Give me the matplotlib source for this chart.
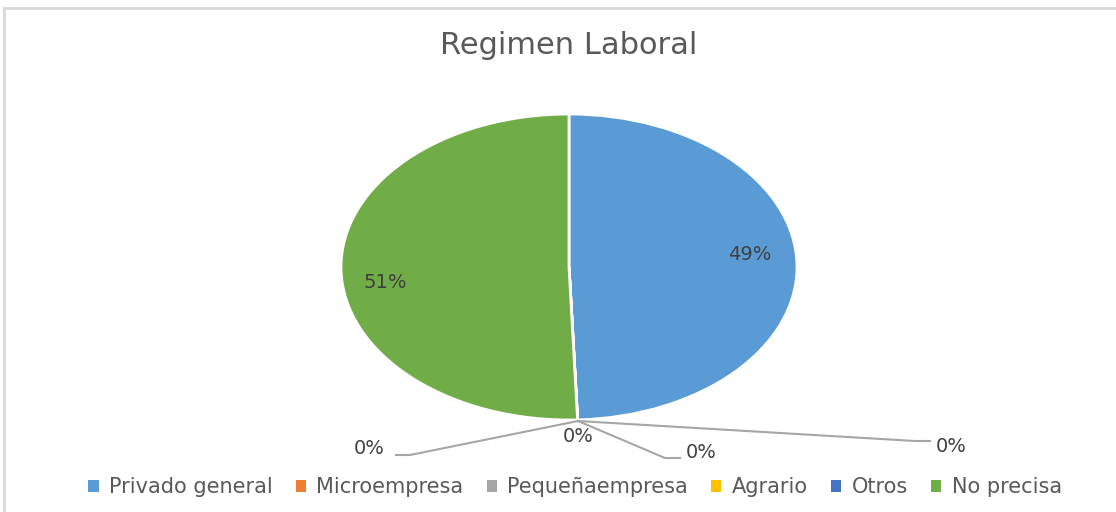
import matplotlib.pyplot as plt
from matplotlib.patches import Patch

categorias = ["Privado general", "Microempresa", "Pequeñaempresa", "Agrario", "Otros", "No precisa"]
valores = [49.4, 0.0, 0.0, 0.0, 0.0, 50.6]
colores = ["#5B9BD5", "#ED7D31", "#A5A5A5", "#FFC000", "#4472C4", "#70AD47"]

W, H = 1116, 512
cx, cy, rx, ry = 569, 267, 228, 153

def px(x, y):
    # pixel -> coordenadas de datos del pie
    return (x - cx) / rx, (cy - y) / ry

fig = plt.figure(figsize=(W / 100, H / 100), dpi=100)
ax = fig.add_axes([0, 0, 1, 1])

total = sum(valores)
etiquetas = ["%d%%" % round(v / total * 100) for v in valores]

wedges, _ = ax.pie(valores, colors=colores, startangle=90, counterclock=False,
                   wedgeprops=dict(edgecolor="white", linewidth=2))
ax.set_aspect("auto")
ax.set_xlim(px(0, 0)[0], px(W, 0)[0])
ax.set_ylim(px(0, H)[1], px(0, 0)[1])
ax.axis("off")

txt = dict(color="#404040", fontsize=14, ha="center", va="center", family="DejaVu Sans")
# etiquetas dentro de los sectores grandes
ax.text(*px(750, 255), etiquetas[0], **txt)
ax.text(*px(385, 283), etiquetas[5], **txt)

# etiquetas con lineas guia para los sectores pequeños
punta = px(578, 421)
guias = [
    (etiquetas[1], [(410, 455), (396, 455)], (369, 449)),
    (etiquetas[2], None, (578, 437)),
    (etiquetas[3], [(665, 458), (680, 458)], (701, 453)),
    (etiquetas[4], [(915, 441), (930, 441)], (951, 447)),
]
for lab, linea, pos in guias:
    if linea:
        xs = [punta[0]] + [px(*p)[0] for p in linea]
        ys = [punta[1]] + [px(*p)[1] for p in linea]
        ax.plot(xs, ys, color="#A6A6A6", lw=1.5)
    ax.text(*px(*pos), lab, **txt)

fig.text(569 / W, 1 - 45 / H, "Regimen Laboral", color="#595959", fontsize=22,
         ha="center", va="center")

handles = [Patch(facecolor=c, edgecolor="none") for c in colores]
fig.legend(handles, categorias, loc="center", bbox_to_anchor=(575 / W, 1 - 487 / H),
           ncol=6, frameon=False, fontsize=15, labelcolor="#595959",
           handlelength=0.5, handleheight=0.5, handletextpad=0.5, columnspacing=1.1)

# borde del grafico
fig.add_artist(plt.Line2D([4 / W, 4 / W], [0, 1 - 8 / H], color="#D9D9D9", lw=2))
fig.add_artist(plt.Line2D([4 / W, 1], [1 - 8 / H, 1 - 8 / H], color="#D9D9D9", lw=2))

fig.savefig("out.png", dpi=100)
